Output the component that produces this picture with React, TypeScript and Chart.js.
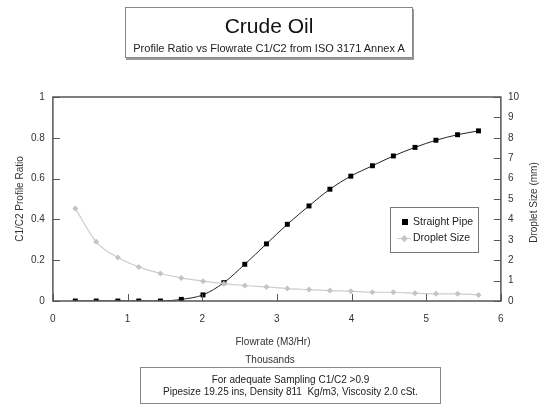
import React, { useEffect, useRef } from "react";
import { Chart, registerables } from "chart.js";

Chart.register(...registerables);

const flowrate = [0.30, 0.58, 0.87, 1.15, 1.44, 1.72, 2.01, 2.29, 2.57, 2.86, 3.14, 3.43, 3.71, 3.99, 4.28, 4.56, 4.85, 5.13, 5.42, 5.70];
const straightPipe = [0, 0, 0, 0, 0, 0.008, 0.03, 0.09, 0.18, 0.28, 0.376, 0.466, 0.548, 0.612, 0.663, 0.711, 0.753, 0.788, 0.815, 0.834];
const dropletSize = [4.54, 2.9, 2.13, 1.67, 1.35, 1.13, 0.97, 0.85, 0.76, 0.69, 0.61, 0.56, 0.51, 0.48, 0.43, 0.43, 0.38, 0.35, 0.35, 0.30];

const xTicks = [0, 1, 2, 3, 4, 5, 6];
const leftTicks = [0, 0.2, 0.4, 0.6, 0.8, 1];
const rightTicks = [0, 1, 2, 3, 4, 5, 6, 7, 8, 9, 10];

const FONT = '"Liberation Sans", Arial, sans-serif';
const TEXT = "#333";

const frameTicks = {
  id: "frameTicks",
  afterDraw(chart: any) {
    const { ctx, chartArea, scales } = chart;
    const { left, right, top, bottom } = chartArea;
    ctx.save();
    ctx.strokeStyle = "#555";
    ctx.lineWidth = 1.5;
    ctx.strokeRect(left, top, right - left, bottom - top);
    ctx.lineWidth = 1;
    ctx.beginPath();
    const L = 7;
    xTicks.forEach((v) => {
      const px = Math.round(scales.x.getPixelForValue(v)) + 0.5;
      ctx.moveTo(px, bottom);
      ctx.lineTo(px, bottom - L);
    });
    leftTicks.forEach((v) => {
      const py = Math.round(scales.y.getPixelForValue(v)) + 0.5;
      ctx.moveTo(left, py);
      ctx.lineTo(left + L, py);
    });
    rightTicks.forEach((v) => {
      const py = Math.round(scales.y2.getPixelForValue(v)) + 0.5;
      ctx.moveTo(right, py);
      ctx.lineTo(right - L, py);
    });
    ctx.stroke();
    ctx.restore();
  },
};

export default function App() {
  const ref = useRef<HTMLCanvasElement>(null);

  useEffect(() => {
    if (!ref.current) return;
    const chart = new Chart(ref.current, {
      type: "line",
      data: {
        datasets: [
          {
            label: "Droplet Size",
            data: flowrate.map((x, i) => ({ x, y: dropletSize[i] })),
            yAxisID: "y2",
            borderColor: "#cdcdcd",
            backgroundColor: "#c4c4c4",
            borderWidth: 1.2,
            pointStyle: "rectRot",
            pointRadius: 3,
            pointBorderWidth: 0,
            cubicInterpolationMode: "monotone",
          },
          {
            label: "Straight Pipe",
            data: flowrate.map((x, i) => ({ x, y: straightPipe[i] })),
            yAxisID: "y",
            borderColor: "#222",
            backgroundColor: "#000",
            borderWidth: 1,
            pointStyle: "rect",
            pointRadius: 3.5,
            pointBorderWidth: 0,
            cubicInterpolationMode: "monotone",
          },
        ],
      },
      options: {
        animation: false,
        responsive: false,
        maintainAspectRatio: false,
        layout: { padding: { left: 14, right: 15, top: 97, bottom: 68 } },
        plugins: { legend: { display: false }, tooltip: { enabled: false }, title: { display: false } },
        scales: {
          x: {
            type: "linear",
            min: 0,
            max: 6,
            afterBuildTicks: (s: any) => {
              s.ticks = xTicks.map((v) => ({ value: v }));
            },
            grid: { display: false, drawTicks: false },
            border: { display: false },
            ticks: { padding: 12, color: TEXT, font: { family: FONT, size: 10 }, callback: (v: any) => String(v) },
            title: { display: false },
          },
          y: {
            type: "linear",
            position: "left",
            min: 0,
            max: 1,
            afterBuildTicks: (s: any) => {
              s.ticks = leftTicks.map((v) => ({ value: v }));
            },
            grid: { display: false, drawTicks: false },
            border: { display: false },
            ticks: { padding: 8, color: TEXT, font: { family: FONT, size: 10 }, callback: (v: any) => String(v) },
            title: {
              display: true,
              text: "C1/C2 Profile Ratio",
              color: TEXT,
              font: { family: FONT, size: 10 },
              padding: { top: 0, bottom: -3 },
            },
          },
          y2: {
            type: "linear",
            position: "right",
            min: 0,
            max: 10,
            afterBuildTicks: (s: any) => {
              s.ticks = rightTicks.map((v) => ({ value: v }));
            },
            grid: { display: false, drawTicks: false },
            border: { display: false },
            ticks: { padding: 7, color: TEXT, font: { family: FONT, size: 10 }, callback: (v: any) => String(v) },
            title: { display: false },
          },
        },
      },
      plugins: [frameTicks],
    } as any);
    return () => chart.destroy();
  }, []);

  return (
    <div style={{ position: "fixed", left: 0, top: 0, width: 541, height: 405, background: "#fff", fontFamily: FONT, color: "#111" }}>
      <canvas ref={ref} width={541} height={405} style={{ position: "absolute", left: 0, top: 0, width: 541, height: 405 }} />
      <div
        style={{
          position: "absolute",
          left: 125,
          top: 7,
          width: 286,
          height: 49,
          border: "1px solid #888",
          boxShadow: "1px 2px 0 #999",
          background: "#fff",
          textAlign: "center",
        }}
      >
        <div style={{ position: "absolute", left: 0, right: 0, top: 6, fontSize: 21, lineHeight: "24px" }}>Crude Oil</div>
        <div style={{ position: "absolute", left: 0, right: 0, top: 34, fontSize: 11, lineHeight: "13px", color: "#222", whiteSpace: "nowrap" }}>
          Profile Ratio vs Flowrate C1/C2 from ISO 3171 Annex A
        </div>
      </div>
      <div style={{ position: "absolute", left: 173, width: 200, top: 335, textAlign: "center", fontSize: 10, lineHeight: "13px", color: TEXT }}>
        Flowrate (M3/Hr)
      </div>
      <div style={{ position: "absolute", left: 170, width: 200, top: 353, textAlign: "center", fontSize: 10, lineHeight: "13px", color: TEXT }}>
        Thousands
      </div>
      <div
        style={{
          position: "absolute",
          left: 533 - 50,
          top: 202 - 6.5,
          width: 100,
          height: 13,
          lineHeight: "13px",
          textAlign: "center",
          fontSize: 10,
          color: TEXT,
          transform: "rotate(-90deg)",
          whiteSpace: "nowrap",
        }}
      >
        Droplet Size (mm)
      </div>
      <div
        style={{
          position: "absolute",
          left: 390,
          top: 207,
          width: 87,
          height: 44,
          border: "1px solid #777",
          background: "#fff",
          overflow: "hidden",
          fontSize: 10.5,
          color: "#222",
        }}
      >
        <div style={{ position: "absolute", left: 11, top: 11, width: 6, height: 6, background: "#000" }} />
        <div style={{ position: "absolute", left: 22, top: 7, lineHeight: "13px", whiteSpace: "nowrap" }}>Straight Pipe</div>
        <div style={{ position: "absolute", left: 6, top: 29.5, width: 14, height: 1.5, background: "#ccc" }} />
        <div style={{ position: "absolute", left: 10.5, top: 27.5, width: 4.5, height: 4.5, background: "#c4c4c4", transform: "rotate(45deg)" }} />
        <div style={{ position: "absolute", left: 22, top: 23, lineHeight: "13px", whiteSpace: "nowrap" }}>Droplet Size</div>
      </div>
      <div
        style={{
          position: "absolute",
          left: 140,
          top: 367,
          width: 299,
          height: 35,
          border: "1px solid #888",
          background: "#fff",
          textAlign: "center",
          fontSize: 10,
          color: "#222",
        }}
      >
        <div style={{ position: "absolute", left: 0, right: 0, top: 6, lineHeight: "12px" }}>For adequate Sampling C1/C2 &gt;0.9</div>
        <div style={{ position: "absolute", left: 0, right: 0, top: 18, lineHeight: "12px", whiteSpace: "pre" }}>
          {"Pipesize 19.25 ins, Density 811  Kg/m3, Viscosity 2.0 cSt."}
        </div>
      </div>
    </div>
  );
}
